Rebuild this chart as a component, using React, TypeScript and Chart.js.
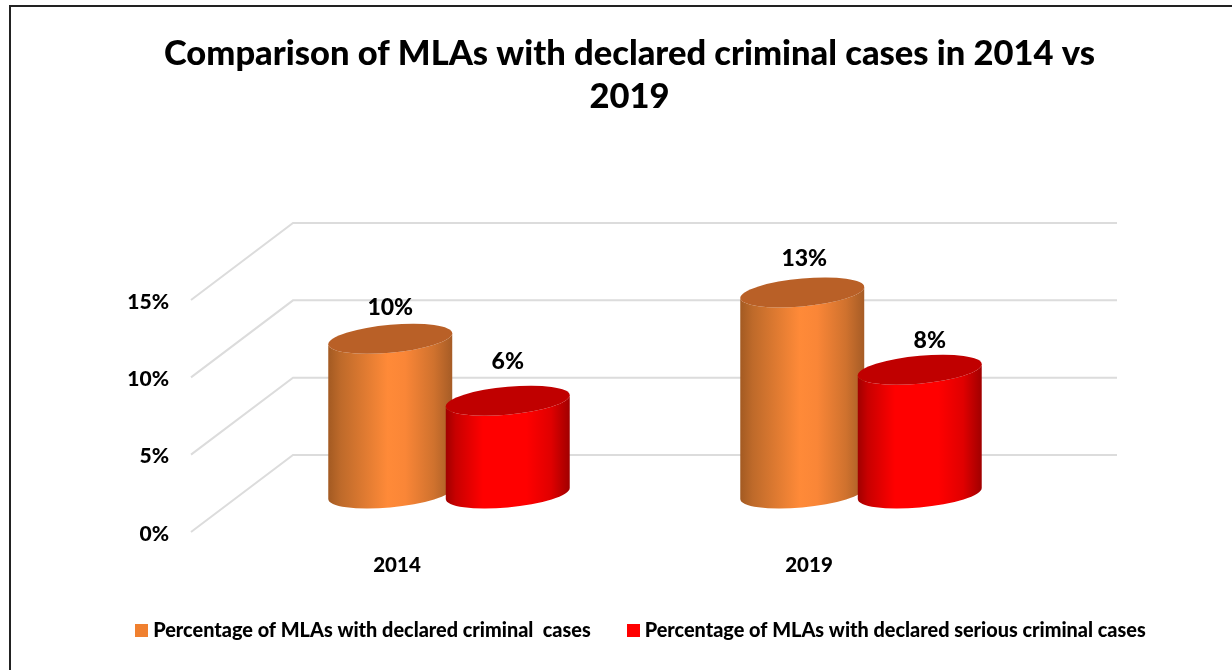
import React, { useEffect, useRef } from "react";
import { Chart, registerables } from "chart.js";

Chart.register(...registerables);

const titleLines = ["Comparison of MLAs with declared criminal cases in 2014 vs", "2019"];
const categories = ["2014", "2019"];
const seriesNames = [
  "Percentage of MLAs with declared criminal  cases",
  "Percentage of MLAs with declared serious criminal cases",
];
const criminalCases = [10, 13];
const seriousCases = [6, 8];

const FONT = "Lato, sans-serif";
const WEIGHT = 900;
const DEPTH_X = 102;
const DEPTH_Y = 77;
const BAR_DEPTH_X = 52;
const RY = 14;
const TILT = -5.5 / 62;

const looks = [
  {
    legend: "#F0802F",
    top: "#B96027",
    stops: [[0, "#A35A22"], [0.1, "#BE6A2A"], [0.48, "#FF8A38"], [0.62, "#FA8637"], [0.85, "#D0722E"], [1, "#A65C26"]],
  },
  {
    legend: "#FF0000",
    top: "#C00000",
    stops: [[0, "#A00000"], [0.08, "#C80000"], [0.3, "#FF0000"], [0.65, "#FF0000"], [0.85, "#E00000"], [1, "#A00000"]],
  },
];

// manual label nudges, like dragged labels in the original: [dataset][category] => [dx, dy]
const labelNudges = [
  [[0, 1], [2, -2]],
  [[0, -7], [10, 3]],
];

function legendMarker(color: string) {
  const c = document.createElement("canvas");
  c.width = 13;
  c.height = 13;
  const g = c.getContext("2d") as CanvasRenderingContext2D;
  g.fillStyle = color;
  g.fillRect(0, 0, 13, 13);
  return c;
}

const cylinders = {
  id: "cylinders",
  afterLayout(chart: any) {
    chart.titleBlock.left = 27;
    chart.titleBlock.right = 1232;
    chart.legend.left = 54;
    chart.legend.right = 1232;
    chart.legend.top = 631 - 10 - chart.options.plugins.legend.labels.padding;
  },
  beforeDatasetsDraw(chart: any) {
    const { ctx } = chart;
    const y = chart.scales.y;
    const { left } = chart.chartArea;
    const backRight = chart.chartArea.right + DEPTH_X;

    ctx.save();
    ctx.strokeStyle = "#DCDCDC";
    ctx.lineWidth = 2;
    ctx.lineJoin = "miter";
    y.ticks.forEach((t: any) => {
      const py = y.getPixelForValue(t.value);
      ctx.beginPath();
      ctx.moveTo(left, py);
      ctx.lineTo(left + DEPTH_X, py - DEPTH_Y);
      ctx.lineTo(backRight, py - DEPTH_Y);
      ctx.stroke();
    });
    ctx.restore();

    const baseY = y.getPixelForValue(0) - DEPTH_Y / 2;
    chart.data.datasets.forEach((_: any, di: number) => {
      const look = looks[di];
      chart.getDatasetMeta(di).data.forEach((el: any) => {
        const cx = el.x + BAR_DEPTH_X;
        const topY = el.y - DEPTH_Y / 2;
        const rx = el.width / 2;
        const grad = ctx.createLinearGradient(cx - rx, 0, cx + rx, 0);
        look.stops.forEach(([o, c]: any) => grad.addColorStop(o, c));

        ctx.save();
        ctx.translate(cx, 0);
        ctx.transform(1, TILT, 0, 1, 0, 0);
        ctx.beginPath();
        ctx.moveTo(-rx, topY);
        ctx.lineTo(-rx, baseY);
        ctx.ellipse(0, baseY, rx, RY, 0, Math.PI, 0, true);
        ctx.lineTo(rx, topY);
        ctx.ellipse(0, topY, rx, RY, 0, 0, Math.PI, false);
        ctx.closePath();
        ctx.restore();
        ctx.fillStyle = grad;
        ctx.fill();

        ctx.save();
        ctx.translate(cx, 0);
        ctx.transform(1, TILT, 0, 1, 0, 0);
        ctx.beginPath();
        ctx.ellipse(0, topY, rx, RY, 0, 0, Math.PI * 2);
        ctx.restore();
        ctx.fillStyle = look.top;
        ctx.fill();
      });
    });

    ctx.save();
    ctx.fillStyle = "#000000";
    ctx.font = `${WEIGHT} 23px ${FONT}`;
    ctx.textAlign = "center";
    ctx.textBaseline = "middle";
    chart.data.datasets.forEach((ds: any, di: number) => {
      chart.getDatasetMeta(di).data.forEach((el: any, i: number) => {
        const [nx, ny] = labelNudges[di][i];
        ctx.fillText(`${ds.data[i]}%`, el.x + BAR_DEPTH_X + nx, el.y - DEPTH_Y / 2 - 32 + ny);
      });
    });
    ctx.restore();
    return false;
  },
};

export default function App() {
  const ref = useRef<HTMLCanvasElement>(null);
  useEffect(() => {
    const markers = looks.map((l) => legendMarker(l.legend));
    const chart = new Chart(ref.current as any, {
      type: "bar",
      data: {
        labels: categories,
        datasets: [
          { label: seriesNames[0], data: criminalCases, backgroundColor: looks[0].legend },
          { label: seriesNames[1], data: seriousCases, backgroundColor: looks[1].legend },
        ],
      },
      options: {
        responsive: false,
        animation: false,
        categoryPercentage: 0.5704,
        barPercentage: 1.055,
        layout: { padding: 0 },
        scales: {
          x: {
            grid: { display: false },
            border: { display: false },
            ticks: { color: "#000", padding: 13, font: { family: FONT, weight: WEIGHT, size: 20.5 }, maxRotation: 0 },
            afterFit: (s: any) => { s.height = 138 - s.chart.legend.height; },
          },
          y: {
            min: 0,
            max: 15,
            grid: { display: false },
            border: { display: false },
            ticks: {
              stepSize: 5,
              color: "#000",
              padding: 14,
              labelOffset: 2,
              font: { family: FONT, weight: WEIGHT, size: 21 },
              callback: (v: any) => `${v}%`,
            },
            afterFit: (s: any) => { s.width = 191; },
          },
          spacer: {
            position: "right",
            min: 0,
            max: 15,
            grid: { display: false },
            border: { display: false },
            ticks: { display: false },
            afterFit: (s: any) => { s.width = 217; },
          },
        },
        plugins: {
          title: {
            display: true,
            text: titleLines,
            color: "#000",
            font: { family: FONT, weight: WEIGHT, size: 34.5, lineHeight: 43 / 34.5 },
            padding: { top: 32, bottom: 182 },
          },
          legend: {
            display: true,
            position: "bottom",
            labels: {
              color: "#000",
              boxWidth: 12,
              boxHeight: 12,
              padding: 41,
              usePointStyle: true,
              pointStyleWidth: 3,
              font: { family: FONT, weight: WEIGHT, size: 19.85, lineHeight: 1.2 },
              generateLabels: (c: any) =>
                (Chart.defaults.plugins.legend.labels as any)
                  .generateLabels(c)
                  .map((l: any, i: number) => ({ ...l, pointStyle: markers[i] })),
            },
          },
          tooltip: { enabled: false },
        },
      } as any,
      plugins: [cylinders],
    });
    return () => chart.destroy();
  }, []);

  return (
    <div style={{ position: "fixed", left: 0, top: 0, width: 1232, height: 670, background: "#fff", overflow: "hidden" }}>
      <canvas ref={ref} width={1232} height={670} style={{ display: "block" }} />
      <div
        style={{
          position: "absolute",
          left: 9,
          top: 5,
          right: 0,
          bottom: 0,
          borderLeft: "2px solid #222",
          borderTop: "2px solid #222",
          pointerEvents: "none",
        }}
      />
    </div>
  );
}
